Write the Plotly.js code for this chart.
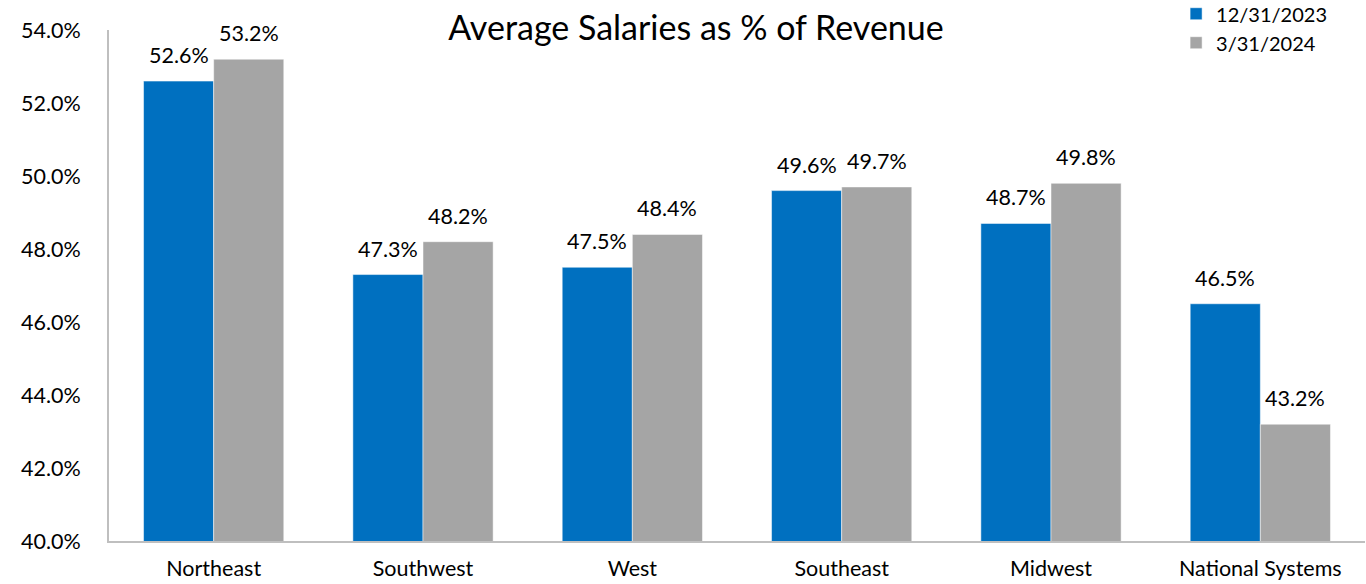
<!DOCTYPE html>
<html>
<head>
<meta charset="utf-8">
<script src="https://cdn.plot.ly/plotly-3.0.1.min.js"></script>
<style>html,body{margin:0;padding:0;background:#fff;}#chart{width:1366px;height:584px;}</style>
</head>
<body>
<div id="chart"></div>
<script>
const categories = ["Northeast", "Southwest", "West", "Southeast", "Midwest", "National Systems"];
const seriesNames = ["12/31/2023", "3/31/2024"];
const values2023 = [52.6, 47.3, 47.5, 49.6, 48.7, 46.5];
const values2024 = [53.2, 48.2, 48.4, 49.7, 49.8, 43.2];
const yTickVals = [40, 42, 44, 46, 48, 50, 52, 54];
const yTickText = ["40.0%", "42.0%", "44.0%", "46.0%", "48.0%", "50.0%", "52.0%", "54.0%"];

const colors = ["#0070C0", "#A5A5A5"];
const FONT = "Lato, 'Open Sans', sans-serif";
const seriesValues = [values2023, values2024];

const traces = seriesValues.map((vals, i) => ({
  type: "bar",
  name: seriesNames[i],
  x: categories,
  y: vals,
  marker: {color: colors[i], line: {color: "#ffffff", width: 0.5}},
  hoverinfo: "x+y"
}));

const annotations = [];
seriesValues.forEach((vals, i) => {
  vals.forEach((v, j) => {
    annotations.push({
      x: categories[j], y: v, xref: "x", yref: "y",
      text: v.toFixed(1) + "%",
      showarrow: false, xanchor: "center", yanchor: "bottom",
      xshift: i === 0 ? -35 : 35, yshift: 11,
      font: {family: FONT, size: 21.5, color: "#000"}
    });
  });
});

const layout = {
  width: 1366, height: 584,
  margin: {l: 109, r: 1, t: 30, b: 43, pad: 0, autoexpand: false},
  paper_bgcolor: "#fff", plot_bgcolor: "#fff",
  title: {text: "Average Salaries as % of Revenue", x: 0.5095, xanchor: "center", y: 0.952, yanchor: "middle",
          automargin: false, font: {family: FONT, size: 34, color: "#000"}},
  barmode: "group", bargap: 0.33, bargroupgap: 0,
  xaxis: {type: "category", showline: true, linecolor: "#BFBFBF", linewidth: 2, ticks: "", showgrid: false,
          automargin: false, tickfont: {family: FONT, size: 21.5, color: "#000"}, ticklabelstandoff: 7},
  yaxis: {range: [40, 54], tickvals: yTickVals, ticktext: yTickText, showline: true, linecolor: "#BFBFBF", linewidth: 2,
          automargin: false, ticks: "", showgrid: false, zeroline: false, tickfont: {family: FONT, size: 21.5, color: "#000"}, ticklabelstandoff: 22},
  legend: {x: 0.8496, y: 1.070, xanchor: "left", yanchor: "top", font: {family: FONT, size: 20, color: "#000"},
           bgcolor: "rgba(0,0,0,0)", tracegroupgap: 0, itemwidth: 30},
  annotations: annotations,
  showlegend: true
};

Plotly.newPlot("chart", traces, layout, {displayModeBar: false, staticPlot: true});
</script>
</body>
</html>
